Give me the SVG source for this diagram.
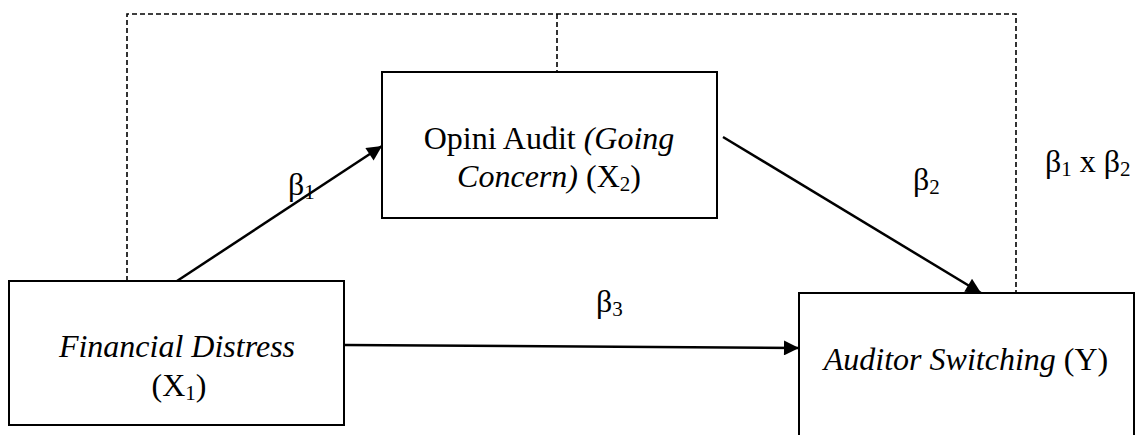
<svg xmlns="http://www.w3.org/2000/svg" width="1137" height="435" viewBox="0 0 1137 435">
  <style>
    .box { fill: #ffffff; stroke: #000000; stroke-width: 2; }
    .lbl { font-family: "Liberation Serif", "Times New Roman", serif; font-size: 32px; fill: #000000; }
    .it { font-style: italic; }
    .sub { font-size: 21px; }
    .dash { fill: none; stroke: #000000; stroke-width: 1.6; stroke-dasharray: 5 3; }
    .arrow { fill: none; stroke: #000000; stroke-width: 2.5; marker-end: url(#head); }
  </style>
  <defs>
    <marker id="head" viewBox="0 0 10 10" refX="10" refY="5" markerWidth="6.5" markerHeight="6" markerUnits="strokeWidth" orient="auto">
      <path d="M0,0 L10,5 L0,10 Z" fill="#000000"/>
    </marker>
  </defs>

  <!-- connectors -->
  <g id="connectors">
    <!-- mediation path (dashed) -->
    <path class="dash" d="M127,281 V14 H1016 V292"/>
    <path class="dash" d="M557,14 V72"/>
    <!-- direct and indirect paths -->
    <line class="arrow" x1="177" y1="281" x2="382" y2="146"/>
    <line class="arrow" x1="723" y1="137" x2="981" y2="293"/>
    <line class="arrow" x1="345" y1="345" x2="799" y2="348"/>
  </g>

  <!-- coefficient labels -->
  <g id="labels">
    <text class="lbl" x="288" y="195">β<tspan class="sub" dy="4">1</tspan></text>
    <text class="lbl" x="913" y="190">β<tspan class="sub" dy="4">2</tspan></text>
    <text class="lbl" x="596" y="312">β<tspan class="sub" dy="4">3</tspan></text>
    <text class="lbl" x="1045" y="172">β<tspan class="sub" dy="4">1</tspan><tspan dy="-4"> x β</tspan><tspan class="sub" dy="4">2</tspan></text>
  </g>

  <g id="node-x2">
    <rect class="box" x="382" y="72" width="335" height="146"/>
    <text class="lbl" x="549" y="149" text-anchor="middle">Opini Audit <tspan class="it">(Going</tspan></text>
    <text class="lbl" x="549" y="187" text-anchor="middle"><tspan class="it">Concern)</tspan> (X<tspan class="sub" dy="4">2</tspan><tspan dy="-4">)</tspan></text>
  </g>

  <g id="node-x1">
    <rect class="box" x="9" y="281" width="335" height="144"/>
    <text class="lbl it" x="177" y="357" text-anchor="middle">Financial Distress</text>
    <text class="lbl" x="179" y="396" text-anchor="middle">(X<tspan class="sub" dy="4">1</tspan><tspan dy="-4">)</tspan></text>
  </g>

  <g id="node-y">
    <rect class="box" x="799" y="293" width="335" height="160"/>
    <text class="lbl" x="966" y="370" text-anchor="middle"><tspan class="it">Auditor Switching</tspan> (Y)</text>
  </g>
</svg>
